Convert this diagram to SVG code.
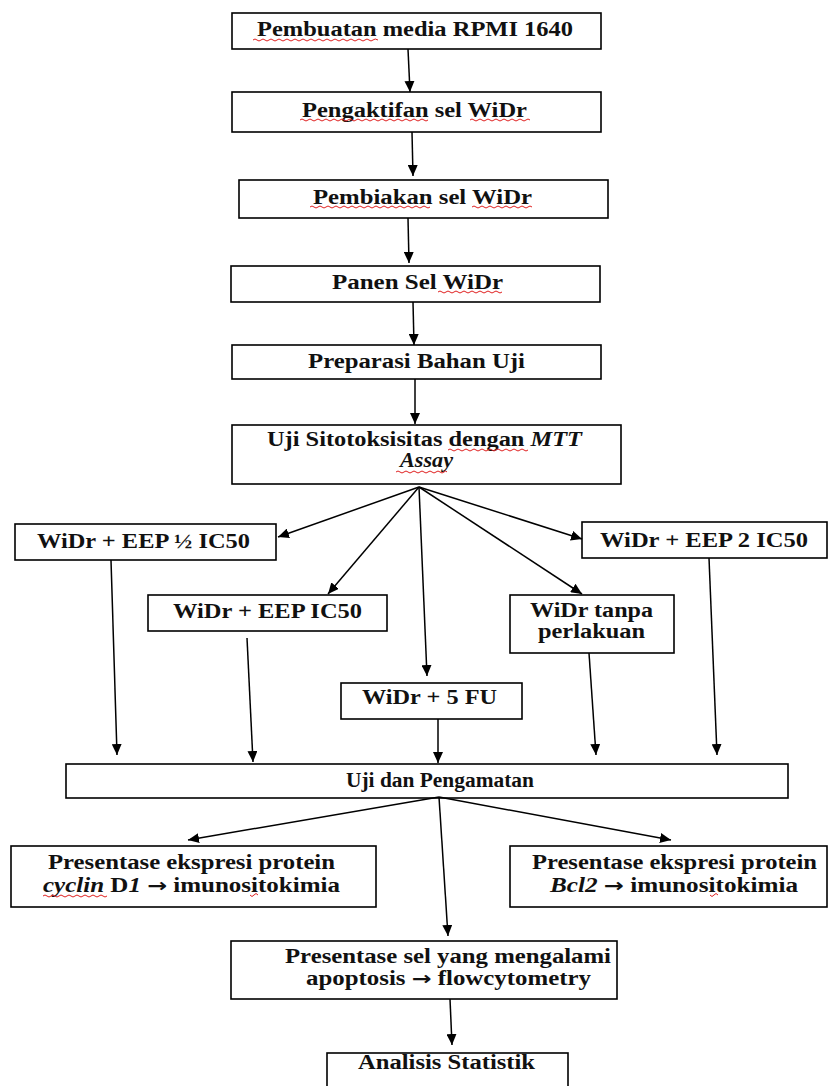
<svg xmlns="http://www.w3.org/2000/svg" width="829" height="1086" viewBox="0 0 829 1086">
<style>
.box{fill:#fff;stroke:#000;stroke-width:1.6}
.t{font-family:"Liberation Serif","Times New Roman",serif;font-weight:bold;font-size:20px;fill:#111}
.i{font-style:italic}
.ar{font-family:"DejaVu Sans",sans-serif;font-weight:bold;font-size:19px}
.c{fill:none;stroke:#000;stroke-width:1.5}
.sq{fill:none;stroke:#e02020;stroke-width:1}
</style>
<defs>
<marker id="ah" markerUnits="userSpaceOnUse" markerWidth="12" markerHeight="10" refX="11" refY="5" orient="auto">
<path d="M0,0 L11,5 L0,10 Z" fill="#000"/>
</marker>
</defs>
<rect width="829" height="1086" fill="#fff"/>

<g id="n1"><rect class="box" x="232" y="13" width="369" height="36"/>
<text class="t" x="257" y="36" textLength="316" lengthAdjust="spacingAndGlyphs">Pembuatan media RPMI 1640</text></g>
<g id="n2"><rect class="box" x="232" y="92" width="369" height="40"/>
<text class="t" x="302" y="117" textLength="225" lengthAdjust="spacingAndGlyphs">Pengaktifan sel WiDr</text></g>
<g id="n3"><rect class="box" x="239" y="180" width="369" height="38"/>
<text class="t" x="313" y="204" textLength="219" lengthAdjust="spacingAndGlyphs">Pembiakan sel WiDr</text></g>
<g id="n4"><rect class="box" x="231" y="266" width="369" height="36"/>
<text class="t" x="332" y="289" textLength="171" lengthAdjust="spacingAndGlyphs">Panen Sel WiDr</text></g>
<g id="n5"><rect class="box" x="232" y="345" width="369" height="34"/>
<text class="t" x="308" y="368" textLength="217" lengthAdjust="spacingAndGlyphs">Preparasi Bahan Uji</text></g>
<g id="n6"><rect class="box" x="232" y="425" width="389" height="59"/>
<text class="t" x="267" y="446" textLength="315" lengthAdjust="spacingAndGlyphs">Uji Sitotoksisitas dengan <tspan class="i">MTT</tspan></text>
<text class="t i" x="400" y="467" textLength="53" lengthAdjust="spacingAndGlyphs">Assay</text></g>
<g id="n7"><rect class="box" x="15" y="524" width="261" height="36"/>
<text class="t" x="37" y="548" textLength="213" lengthAdjust="spacingAndGlyphs">WiDr + EEP ½ IC50</text></g>
<g id="n8"><rect class="box" x="148" y="595" width="239" height="36"/>
<text class="t" x="173" y="618" textLength="189" lengthAdjust="spacingAndGlyphs">WiDr + EEP IC50</text></g>
<g id="n9"><rect class="box" x="341" y="683" width="181" height="36"/>
<text class="t" x="362" y="704" textLength="135" lengthAdjust="spacingAndGlyphs">WiDr + 5 FU</text></g>
<g id="n10"><rect class="box" x="510" y="595" width="164" height="58"/>
<text class="t" x="530" y="617" textLength="123" lengthAdjust="spacingAndGlyphs">WiDr tanpa</text>
<text class="t" x="538" y="638" textLength="107" lengthAdjust="spacingAndGlyphs">perlakuan</text></g>
<g id="n11"><rect class="box" x="582" y="522" width="245" height="36"/>
<text class="t" x="600" y="547" textLength="208" lengthAdjust="spacingAndGlyphs">WiDr + EEP 2 IC50</text></g>
<g id="n12"><rect class="box" x="66" y="764" width="722" height="34"/>
<text class="t" x="346" y="787" textLength="188" lengthAdjust="spacingAndGlyphs">Uji dan Pengamatan</text></g>
<g id="n13"><rect class="box" x="11" y="846" width="365" height="61"/>
<text class="t" x="48" y="869" textLength="287" lengthAdjust="spacingAndGlyphs">Presentase ekspresi protein</text>
<text class="t" x="43" y="892" textLength="297" lengthAdjust="spacingAndGlyphs"><tspan class="i">cyclin</tspan> D<tspan class="i">1</tspan> <tspan class="ar">→</tspan> imunositokimia</text></g>
<g id="n14"><rect class="box" x="510" y="846" width="317" height="61"/>
<text class="t" x="532" y="869" textLength="285" lengthAdjust="spacingAndGlyphs">Presentase ekspresi protein</text>
<text class="t" x="550" y="892" textLength="248" lengthAdjust="spacingAndGlyphs"><tspan class="i">Bcl2</tspan> <tspan class="ar">→</tspan> imunositokimia</text></g>
<g id="n15"><rect class="box" x="231" y="941" width="386" height="58"/>
<text class="t" x="285" y="963" textLength="326" lengthAdjust="spacingAndGlyphs">Presentase sel yang mengalami</text>
<text class="t" x="306" y="985" textLength="285" lengthAdjust="spacingAndGlyphs">apoptosis <tspan class="ar">→</tspan> flowcytometry</text></g>
<g id="n16"><rect class="box" x="327" y="1053" width="241" height="40"/>
<text class="t" x="358" y="1069" textLength="177" lengthAdjust="spacingAndGlyphs">Analisis Statistik</text></g>

<g id="connectors">
<line class="c" x1="408" y1="49" x2="410" y2="92" marker-end="url(#ah)"/>
<line class="c" x1="412" y1="132" x2="413" y2="176" marker-end="url(#ah)"/>
<line class="c" x1="408" y1="218" x2="409" y2="263" marker-end="url(#ah)"/>
<line class="c" x1="413" y1="302" x2="414" y2="345" marker-end="url(#ah)"/>
<line class="c" x1="415" y1="379" x2="415" y2="424" marker-end="url(#ah)"/>
<line class="c" x1="419" y1="487" x2="278" y2="537" marker-end="url(#ah)"/>
<line class="c" x1="419" y1="487" x2="328" y2="594" marker-end="url(#ah)"/>
<line class="c" x1="419" y1="487" x2="427" y2="676" marker-end="url(#ah)"/>
<line class="c" x1="419" y1="487" x2="582" y2="594" marker-end="url(#ah)"/>
<line class="c" x1="419" y1="487" x2="582" y2="539" marker-end="url(#ah)"/>
<line class="c" x1="111" y1="560" x2="117" y2="755" marker-end="url(#ah)"/>
<line class="c" x1="247" y1="638" x2="253" y2="762" marker-end="url(#ah)"/>
<line class="c" x1="438" y1="719" x2="438" y2="763" marker-end="url(#ah)"/>
<line class="c" x1="589" y1="653" x2="596" y2="755" marker-end="url(#ah)"/>
<line class="c" x1="709" y1="558" x2="717" y2="755" marker-end="url(#ah)"/>
<line class="c" x1="439" y1="797" x2="188" y2="840" marker-end="url(#ah)"/>
<line class="c" x1="439" y1="797" x2="448" y2="936" marker-end="url(#ah)"/>
<line class="c" x1="439" y1="797" x2="671" y2="840" marker-end="url(#ah)"/>
<line class="c" x1="450" y1="999" x2="452" y2="1045" marker-end="url(#ah)"/>
</g>

<g id="spellcheck">
<path class="sq" d="M253,40 q2,-2 4,0 t4,0 t4,0 t4,0 t4,0 t4,0 t4,0 t4,0 t4,0 t4,0 t4,0 t4,0 t4,0 t4,0 t4,0 t4,0 t4,0 t4,0 t4,0 t4,0 t4,0 t4,0 t4,0 t4,0 t4,0 t4,0 t4,0 t4,0 t4,0 t4,0 t5,0"/>
<path class="sq" d="M300,120 q2,-2 4,0 t4,0 t4,0 t4,0 t4,0 t4,0 t4,0 t4,0 t4,0 t4,0 t4,0 t4,0 t4,0 t4,0 t4,0 t4,0 t4,0 t4,0 t4,0 t4,0 t4,0 t4,0 t4,0 t4,0 t4,0 t4,0 t4,0 t4,0 t4,0 t4,0 t4,0 t4,0"/>
<path class="sq" d="M470,120 q2,-2 4,0 t4,0 t4,0 t4,0 t4,0 t4,0 t4,0 t4,0 t4,0 t4,0 t4,0 t4,0 t4,0 t4,0 t4,0"/>
<path class="sq" d="M310,207 q2,-2 4,0 t4,0 t4,0 t4,0 t4,0 t4,0 t4,0 t4,0 t4,0 t4,0 t4,0 t4,0 t4,0 t4,0 t4,0 t4,0 t4,0 t4,0 t4,0 t4,0 t4,0 t4,0 t4,0 t4,0 t4,0 t4,0 t4,0 t4,0 t4,0 t4,0"/>
<path class="sq" d="M472,207 q2,-2 4,0 t4,0 t4,0 t4,0 t4,0 t4,0 t4,0 t4,0 t4,0 t4,0 t4,0 t4,0 t4,0 t4,0 t4,0"/>
<path class="sq" d="M438,292 q2,-2 4,0 t4,0 t4,0 t4,0 t4,0 t4,0 t4,0 t4,0 t4,0 t4,0 t4,0 t4,0 t4,0 t4,0 t4,0 t4,0"/>
<path class="sq" d="M448,450 q2,-2 4,0 t4,0 t4,0 t4,0 t4,0 t4,0 t4,0 t4,0 t4,0 t4,0 t4,0 t4,0 t4,0 t4,0 t4,0 t4,0 t4,0 t4,0 t4,0 t4,0"/>
<path class="sq" d="M396,472 q2,-2 4,0 t4,0 t4,0 t4,0 t4,0 t4,0 t4,0 t4,0 t4,0 t4,0 t4,0 t4,0 t3,0"/>
<path class="sq" d="M43,896 q2,-2 4,0 t4,0 t4,0 t4,0 t4,0 t4,0 t4,0 t4,0 t4,0 t4,0 t4,0 t4,0 t4,0 t4,0 t4,0 t4,0"/>
<path class="sq" d="M250,895 q2,3 4,0 t4,0"/>
<path class="sq" d="M710,895 q2,3 4,0 t4,0"/>
</g>
</svg>
